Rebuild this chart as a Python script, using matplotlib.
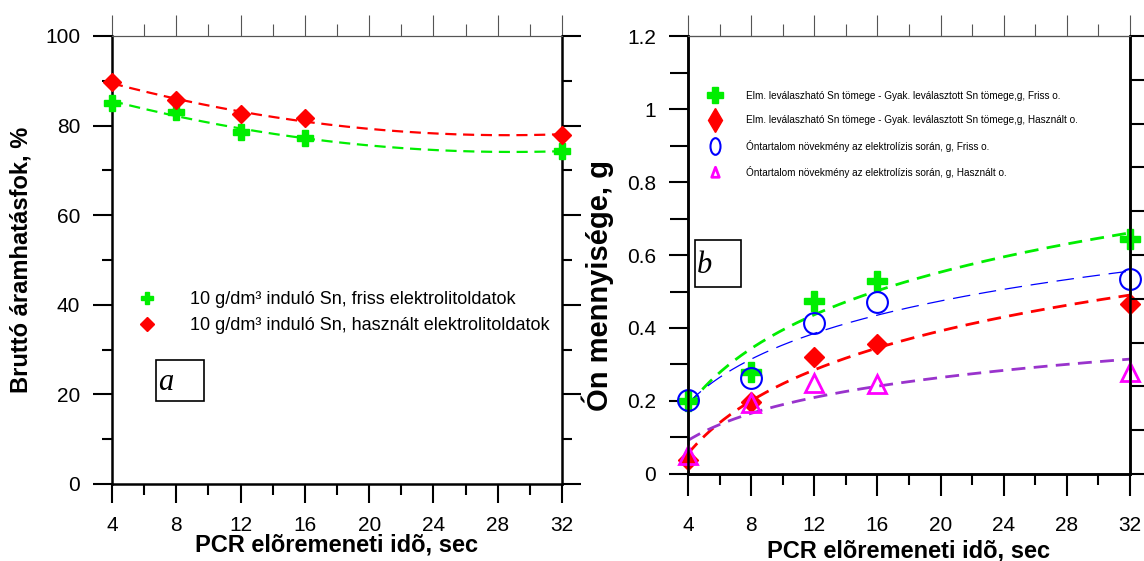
import numpy as np
import matplotlib.pyplot as plt
from matplotlib import font_manager
from matplotlib.patches import Rectangle
from matplotlib.path import Path
from matplotlib.transforms import Affine2D
from matplotlib.ticker import MultipleLocator, FuncFormatter

plt.rcParams['font.family'] = ['Liberation Sans', 'DejaVu Sans']

# PCR elõremeneti idõ, sec
t = np.array([4, 8, 12, 16, 32])

# a) bruttó áramhatásfok, %
eff_fresh = np.array([85.1, 83.1, 78.6, 77.3, 74.3])
eff_used = np.array([89.8, 85.6, 82.5, 81.6, 78.0])

# b) ón mennyisége, g
diff_fresh = np.array([0.20, 0.28, 0.475, 0.53, 0.643])
diff_used = np.array([0.038, 0.197, 0.32, 0.356, 0.466])
gain_fresh = np.array([0.203, 0.263, 0.413, 0.472, 0.534])
gain_used = np.array([0.052, 0.195, 0.249, 0.247, 0.28])

labels_a = ['10 g/dm³ induló Sn, friss elektrolitoldatok',
            '10 g/dm³ induló Sn, használt elektrolitoldatok']
labels_b = ['Elm. leválaszható Sn tömege - Gyak. leválasztott Sn tömege,g, Friss o.',
            'Elm. leválaszható Sn tömege - Gyak. leválasztott Sn tömege,g, Használt o.',
            'Óntartalom növekmény az elektrolízis során, g, Friss o.',
            'Óntartalom növekmény az elektrolízis során, g, Használt o.']
xlabel = 'PCR elõremeneti idõ, sec'

GREEN = '#00ee00'
RED = '#ff0000'
BLUE = '#0000ff'
MAGENTA = '#ff00ff'
PURPLE = '#9933cc'
GREY = '#555555'

xs = np.linspace(4, 32, 200)
dash = (0, (5, 3))

# narrow font for the squeezed legend of panel b, if it is there
names = {f.name for f in font_manager.fontManager.ttflist}
if 'Liberation Sans Narrow' in names:
    leg_font = {'family': 'Liberation Sans Narrow', 'size': 8.7}
else:
    leg_font = {'family': 'Liberation Sans', 'size': 7.2}


def style(ax, ymin_len, xmaj_len, xpad):
    for s in ax.spines.values():
        s.set_linewidth(1.8)
    ax.spines['top'].set_linewidth(0.8)
    ax.spines['top'].set_color(GREY)
    ax.set_xlim(4, 32)
    ax.xaxis.set_major_locator(MultipleLocator(4))
    ax.xaxis.set_minor_locator(MultipleLocator(2))
    ax.tick_params(which='both', direction='out', width=1.5,
                   labelsize=15, color='black')
    ax.tick_params(which='major', length=14, pad=9)
    ax.tick_params(axis='x', which='major', length=xmaj_len, pad=xpad)
    ax.tick_params(axis='x', which='minor', length=8)
    ax.tick_params(axis='y', which='minor', length=ymin_len)
    top = ax.secondary_xaxis('top')
    top.xaxis.set_major_locator(MultipleLocator(4))
    top.xaxis.set_minor_locator(MultipleLocator(2))
    top.tick_params(which='both', direction='out', width=0.8, color=GREY, labeltop=False)
    top.tick_params(which='major', length=15)
    top.tick_params(which='minor', length=9)
    top.spines['top'].set_linewidth(0.8)
    top.spines['top'].set_color(GREY)


fig = plt.figure(figsize=(11.44, 5.61), dpi=100)

# ---- panel a ----
ax1 = fig.add_axes([0.0979, 0.1373, 0.3934, 0.7986])
style(ax1, 7, 14, 9)
ax1.tick_params(which='both', right=True)
ax1.set_ylim(0, 100)
ax1.yaxis.set_major_locator(MultipleLocator(20))
ax1.yaxis.set_minor_locator(MultipleLocator(10))

ax1.plot(xs, np.polyval(np.polyfit(t, eff_fresh, 2), xs), color=GREEN, lw=1.6, ls=dash)
ax1.plot(xs, np.polyval(np.polyfit(t, eff_used, 2), xs), color=RED, lw=1.6, ls=dash)
ax1.plot(t, eff_fresh, ls='none', marker='P', ms=12, color=GREEN, mec=GREEN,
         label=labels_a[0], clip_on=False, zorder=5)
ax1.plot(t, eff_used, ls='none', marker='D', ms=9, color=RED, mec=RED,
         label=labels_a[1], clip_on=False, zorder=5)
ax1.legend(loc='upper left', bbox_to_anchor=(0.058, 0.431), frameon=False,
           fontsize=13, markerscale=0.75, handlelength=1.0, handletextpad=1.9,
           labelspacing=0.52, borderpad=0, borderaxespad=0)

ax1.add_patch(Rectangle((0.098, 0.185), 0.106, 0.092, transform=ax1.transAxes,
                        fill=False, lw=1.2, ec='black'))
ax1.text(0.103, 0.21, 'a', transform=ax1.transAxes, fontsize=22,
         family='Liberation Serif', style='italic')

ax1.set_ylabel('Bruttó áramhatásfok, %', fontsize=17, fontweight='bold', labelpad=9)
ax1.set_xlabel(xlabel, fontsize=17, fontweight='bold', labelpad=-1)

# ---- panel b ----
ax2 = fig.add_axes([0.6014, 0.1551, 0.3864, 0.7807])
style(ax2, 13, 16, 14.5)
ax2.set_ylim(0, 1.2)
ax2.yaxis.set_major_locator(MultipleLocator(0.2))
ax2.yaxis.set_minor_locator(MultipleLocator(0.1))
ax2.yaxis.set_major_formatter(FuncFormatter(lambda v, p: '%g' % round(v, 2)))

lx = np.log(t)
ax2.plot(xs, np.polyval(np.polyfit(lx, diff_fresh, 1), np.log(xs)), color=GREEN, lw=2, ls=dash)
ax2.plot(xs, np.polyval(np.polyfit(lx, gain_fresh, 1), np.log(xs)), color=BLUE, lw=0.9, ls=(0, (14, 7)))
ax2.plot(xs, np.polyval(np.polyfit(lx, diff_used, 1), np.log(xs)), color=RED, lw=2, ls=dash)
ax2.plot(xs, np.polyval(np.polyfit(lx, gain_used, 1), np.log(xs)), color=PURPLE, lw=2, ls=dash)

ax2.plot(t, diff_fresh, ls='none', marker='P', ms=15, color=GREEN, mec=GREEN, clip_on=False, zorder=5)
ax2.plot(t, diff_used, ls='none', marker='D', ms=10, color=RED, mec=RED, clip_on=False, zorder=5)
ax2.plot(t, gain_fresh, ls='none', marker='o', ms=15, mfc='none', mec=BLUE, mew=1.5, clip_on=False, zorder=6)
ax2.plot(t, gain_used, ls='none', marker='^', ms=13, mfc='none', mec=MAGENTA, mew=2, clip_on=False, zorder=6)

# legend with horizontally squeezed markers
ellipse = Path.unit_circle().transformed(Affine2D().scale(0.6, 1.0))
tri = Path([(0, 1), (-0.6, -0.6), (0.6, -0.6), (0, 1)], closed=True)
hb = [plt.Line2D([], [], ls='none', marker='P', ms=12, color=GREEN),
      plt.Line2D([], [], ls='none', marker='d', ms=12, color=RED),
      plt.Line2D([], [], ls='none', marker=ellipse, ms=12, mfc='none', mec=BLUE, mew=1.5),
      plt.Line2D([], [], ls='none', marker=tri, ms=9, mfc='none', mec=MAGENTA, mew=2)]
ax2.legend(hb, labels_b, loc='upper left', bbox_to_anchor=(0.047, 0.875), frameon=False,
           prop=leg_font, handlelength=1.2, handletextpad=2.5, labelspacing=1.45,
           borderpad=0, borderaxespad=0)

axr = ax2.twinx()
axr.set_ylim(0, 1)
axr.yaxis.set_major_locator(MultipleLocator(0.1))
axr.tick_params(axis='y', direction='out', length=12, width=1.5, labelright=False)
for s in axr.spines.values():
    s.set_linewidth(1.8)
axr.spines['top'].set_linewidth(0.8)
axr.spines['top'].set_color(GREY)

ax2.add_patch(Rectangle((0.016, 0.427), 0.104, 0.108, transform=ax2.transAxes,
                        fill=False, lw=1.2, ec='black'))
ax2.text(0.02, 0.46, 'b', transform=ax2.transAxes, fontsize=22,
         family='Liberation Serif', style='italic')

ax2.set_ylabel('Ón mennyisége, g', fontsize=21, fontweight='bold')
ax2.yaxis.set_label_coords(-0.167, 0.43)
ax2.set_xlabel(xlabel, fontsize=17, fontweight='bold', labelpad=3)

fig.savefig('out.png', dpi=100)
